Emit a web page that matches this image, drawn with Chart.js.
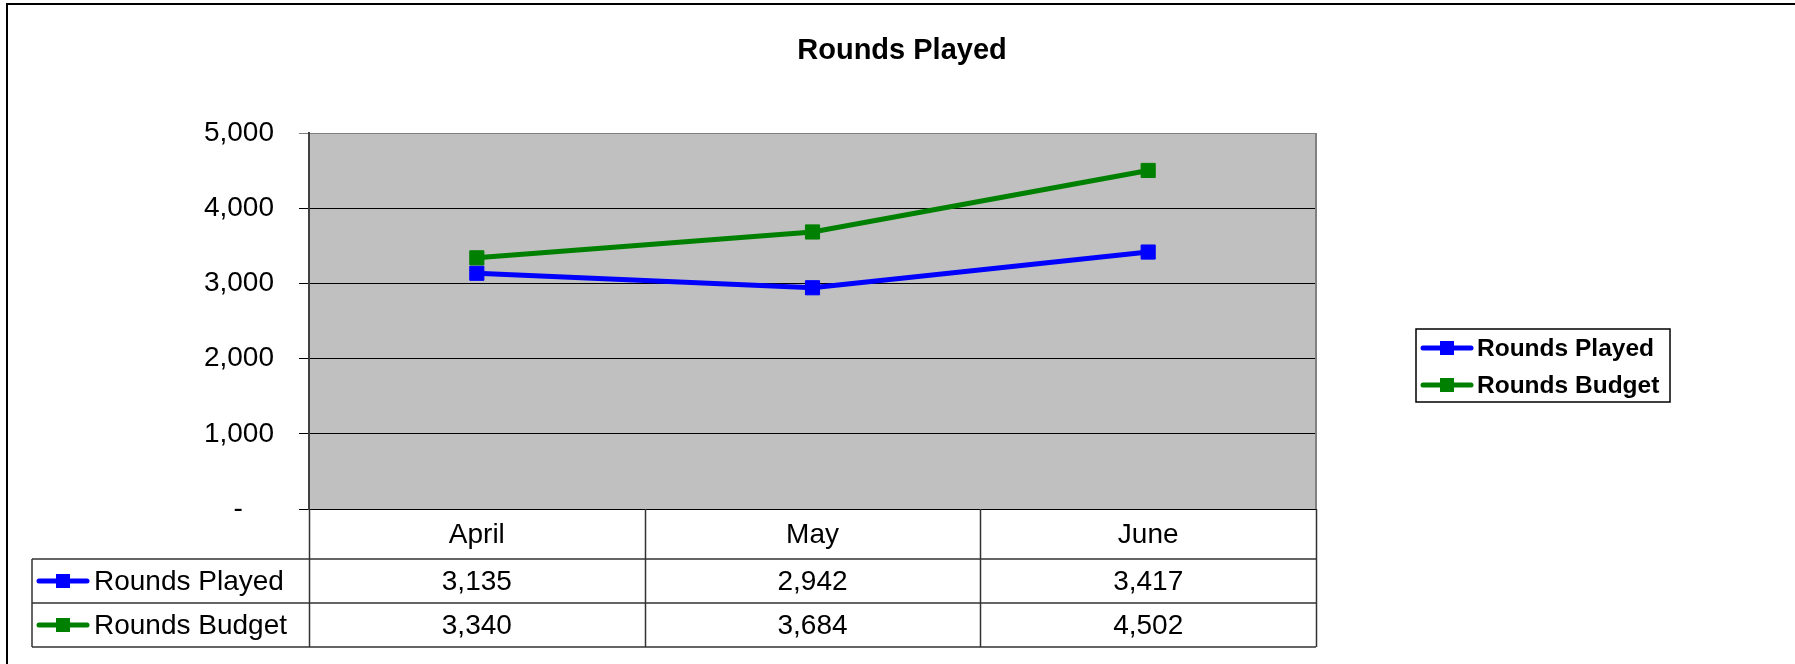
<!DOCTYPE html>
<html>
<head>
<meta charset="utf-8">
<title>Rounds Played</title>
<script src="https://cdn.jsdelivr.net/npm/chart.js@4.4.0/dist/chart.umd.min.js"></script>
<style>
  html, body { margin: 0; padding: 0; background: #fff; }
  canvas { display: block; }
</style>
</head>
<body>
<canvas id="graph" width="1795" height="664"></canvas>
<script>
// values
const months = ["April", "May", "June"];
const roundsPlayed = [3135, 2942, 3417];
const roundsBudget = [3340, 3684, 4502];
const seriesNames = ["Rounds Played", "Rounds Budget"];
const seriesColors = ["#0000FF", "#008000"];
const yTicks = [0, 1000, 2000, 3000, 4000, 5000];
const chartTitle = "Rounds Played";

const FONT = "'Liberation Sans', Arial, sans-serif";
const fmt = v => v.toLocaleString('en-US');

// small line + square, like the excel legend key
function drawKey(ctx, cx, cy, color) {
    ctx.save();
    ctx.strokeStyle = color;
    ctx.lineWidth = 5;
    ctx.lineCap = 'round';
    ctx.beginPath();
    ctx.moveTo(cx - 24, cy);
    ctx.lineTo(cx + 24, cy);
    ctx.stroke();
    ctx.fillStyle = color;
    ctx.fillRect(cx - 7, cy - 7, 14, 14);
    ctx.restore();
}

const excelLook = {
    id: 'excelLook',
    beforeDraw(chart) {
        const { ctx, chartArea: a } = chart;
        ctx.save();
        ctx.fillStyle = '#fff';
        ctx.fillRect(0, 0, chart.width, chart.height);
        ctx.fillStyle = '#C0C0C0';
        ctx.fillRect(a.left, a.top, a.right - a.left, a.bottom - a.top);
        ctx.restore();
    },
    beforeDatasetsDraw(chart) {
        const { ctx, chartArea: a } = chart;
        ctx.save();
        ctx.strokeStyle = '#808080';
        ctx.lineWidth = 2;
        ctx.beginPath();
        ctx.moveTo(a.right, a.top);
        ctx.lineTo(a.right, a.bottom);
        ctx.stroke();
        ctx.restore();
    },
    afterDraw(chart) {
        const { ctx, chartArea: a } = chart;
        const x = chart.scales.x;
        const step = x.getPixelForValue(1) - x.getPixelForValue(0);
        ctx.save();

        // outer frame (cut on right and bottom)
        ctx.strokeStyle = '#000';
        ctx.lineWidth = 2;
        ctx.strokeRect(7, 4, 2000, 1000);

        // title
        ctx.fillStyle = '#000';
        ctx.font = 'bold 29px ' + FONT;
        ctx.textAlign = 'center';
        ctx.textBaseline = 'middle';
        ctx.fillText(chartTitle, 902, 51);

        // data table under the plot
        const headTop = a.bottom, row1 = a.bottom + 50, row2 = row1 + 44, row3 = row2 + 44;
        const tableLeft = 32;
        ctx.strokeStyle = '#333';
        ctx.lineWidth = 1.5;
        ctx.beginPath();
        [row1, row2, row3].forEach(y => { ctx.moveTo(tableLeft, y); ctx.lineTo(a.right, y); });
        ctx.moveTo(tableLeft, row1); ctx.lineTo(tableLeft, row3);
        for (let i = 0; i <= months.length; i++) {
            const px = Math.round(x.getPixelForValue(0) - step / 2 + i * step) + 0.5;
            ctx.moveTo(px, headTop); ctx.lineTo(px, row3);
        }
        ctx.stroke();

        ctx.font = '28px ' + FONT;
        ctx.textAlign = 'center';
        months.forEach((m, i) => {
            const cx = x.getPixelForValue(i);
            ctx.fillText(m, cx, (headTop + row1) / 2 + 1);
            ctx.fillText(fmt(roundsPlayed[i]), cx, (row1 + row2) / 2 + 1);
            ctx.fillText(fmt(roundsBudget[i]), cx, (row2 + row3) / 2 + 1);
        });
        ctx.textAlign = 'left';
        [[row1, row2], [row2, row3]].forEach((r, k) => {
            const cy = (r[0] + r[1]) / 2;
            drawKey(ctx, 63, cy, seriesColors[k]);
            ctx.fillStyle = '#000';
            ctx.fillText(seriesNames[k], 94, cy + 1);
        });

        // legend box
        ctx.strokeStyle = '#000';
        ctx.lineWidth = 1.5;
        ctx.strokeRect(1416, 329, 254, 73);
        ctx.font = 'bold 24.5px ' + FONT;
        [348, 385].forEach((cy, k) => {
            drawKey(ctx, 1447, cy, seriesColors[k]);
            ctx.fillStyle = '#000';
            ctx.fillText(seriesNames[k], 1477, cy + 1);
        });
        ctx.restore();
    }
};

const c = document.getElementById('graph');
new Chart(c, {
    type: 'line',
    data: {
        labels: months,
        datasets: [
            { label: seriesNames[0], data: roundsPlayed, order: 1 },
            { label: seriesNames[1], data: roundsBudget, order: 0 }
        ].map((d, i) => Object.assign(d, {
            borderColor: seriesColors[i],
            backgroundColor: seriesColors[i],
            borderWidth: 5,
            tension: 0,
            pointStyle: 'rect',
            pointRadius: 10,
            pointBorderWidth: 1,
            pointBackgroundColor: seriesColors[i],
            pointBorderColor: seriesColors[i]
        }))
    },
    options: {
        responsive: false,
        animation: false,
        devicePixelRatio: 1,
        layout: { padding: { top: 133, right: 479, bottom: 0, left: 0 } },
        plugins: {
            legend: { display: false },
            title: { display: false },
            tooltip: { enabled: false }
        },
        scales: {
            x: {
                offset: true,
                grid: { display: false },
                border: { display: false },
                ticks: { display: false },
                afterFit: s => { s.height = 155; }
            },
            y: {
                min: 0,
                max: 5000,
                afterBuildTicks: s => { s.ticks = yTicks.map(v => ({ value: v })); },
                afterFit: s => { s.width = 309; },
                ticks: {
                    color: '#000',
                    padding: 25,
                    font: { family: FONT, size: 28 },
                    callback: v => v === 0 ? '-    ' : fmt(v)
                },
                grid: {
                    tickLength: 10,
                    lineWidth: 1,
                    color: t => t.tick && t.tick.value === 5000 ? '#808080' : '#000'
                },
                border: { display: true, color: '#404040', width: 2 }
            }
        }
    },
    plugins: [excelLook]
});
</script>
</body>
</html>
